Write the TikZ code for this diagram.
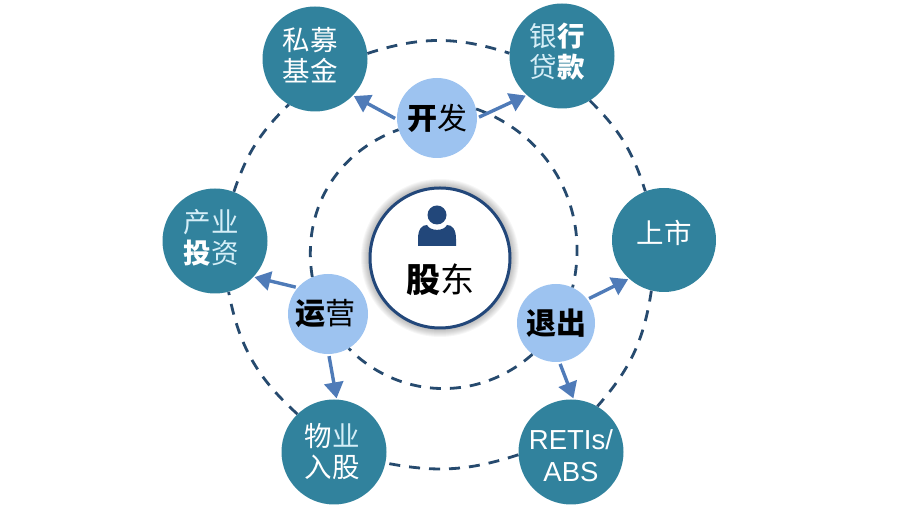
\documentclass[tikz,border=0pt]{standalone}
\usepackage{fontspec}
\newfontfamily\cjk{Noto Sans CJK SC}
\newfontfamily\latinf{Liberation Sans}
\usetikzlibrary{arrows.meta}
\definecolor{tealc}{HTML}{31829D}
\definecolor{lightb}{HTML}{9DC3F0}
\definecolor{ringc}{HTML}{264A6E}
\definecolor{arrowc}{HTML}{4F7BB8}
\definecolor{navy}{HTML}{22477A}
\definecolor{tint}{HTML}{D5EEF7}
\newcommand\shl[1]{\mbox{\kern-5pt #1\kern5pt}}
\tikzset{
  x=1pt,y=1pt,
  outernode/.style={circle,fill=tealc,minimum size=105pt,inner sep=0pt,text=white,align=center,
     font=\cjk\fontsize{27.5}{31}\selectfont},
  innernode/.style={circle,fill=lightb,minimum size=80pt,inner sep=0pt,text=black,
     font=\cjk\fontsize{30}{34}\selectfont},
  centernode/.style={circle,fill=white,draw=navy,line width=3pt,minimum size=140pt,inner sep=0pt,text=black,
     font=\cjk\fontsize{34}{38}\selectfont},
  ring/.style={draw=ringc,line width=2.8pt,dash pattern=on 11pt off 9pt},
  flow/.style={draw=arrowc,line width=3.4pt,-{Triangle[length=16pt,width=19pt]},shorten <=2pt,shorten >=1pt},
}
\begin{document}
\begin{tikzpicture}
\useasboundingbox (0,0) rectangle (900,510);
% soft shadow of the centre disc
\foreach \r in {71,72,...,79}{\fill[black,opacity=0.035] (440,252) circle (\r);}
% nodes
\node[centernode,text height=72pt] (gd) at (440,252) {\textbf{股}东};
\node[outernode,text depth=10pt] (sm) at (315,451) {\shl{私募}\\\shl{基金}};
\node[outernode,text depth=12pt] (yh) at (562,454) {\shl{\textcolor{tint}{银}\textbf{行}}\\\shl{\textcolor{tint}{贷}\textbf{款}}};
\node[outernode,minimum size=104pt,text depth=17pt] (ss) at (664,270) {上市};
\node[outernode,text height=60pt] (rt) at (571,58) {\latinf\fontsize{27.5}{32}\selectfont RETIs/\\[1pt]\latinf\fontsize{27.5}{32}\selectfont ABS};
\node[outernode] (wy) at (334,58) {\mbox{\kern-2pt 物\textcolor{tint}{业}\kern2pt}\\\mbox{\kern-2pt 入股\kern2pt}};
\node[outernode,text depth=10pt] (cy) at (215,269) {\mbox{\kern-4pt\textcolor{tint}{产业}\kern4pt}\\\mbox{\kern-4pt\textbf{投}\textcolor{tint}{资}\kern4pt}};
\node[innernode] (kf) at (437,392) {\textbf{开}发};
\node[innernode] (yy) at (328,196) {\kern-3pt\textbf{运}营\kern3pt};
\node[innernode,minimum size=78pt] (tc) at (556,187) {\textbf{退出}};
% person icon
\fill[navy] (437,295) circle (9.5);
\fill[navy] (418,264) -- (418,271) .. controls (418,281) and (422,285) .. (427,285)
  .. controls (430,278.5) and (444,278.5) .. (447,285)
  .. controls (452,285) and (456,281) .. (456,271) -- (456,264) -- cycle;
% outer ring
\draw[ring] (sm.6) to[bend left=18] (yh.177);
\draw[ring] (yh.-58) to[bend left=14] (ss.111);
\draw[ring] (ss.-104) to[bend left=16.4] (rt.60);
\draw[ring] (rt.183) to[bend left=14.5] (wy.-12);
\draw[ring] (wy.134) to[bend left=18.5] (cy.-75);
\draw[ring] (cy.69) to[bend left=13.5] (sm.-120);
% inner ring
\draw[ring] (kf.13) to[bend left=42] (tc.65);
\draw[ring] (tc.233) to[bend left=43.5] (yy.-59);
\draw[ring] (yy.113) to[bend left=39.7] (kf.197);
% arrows
\draw[flow] (kf.182) -- (sm.-44);
\draw[flow] (kf.0) -- (yh.228);
\draw[flow] (yy.139) -- (cy.-43);
\draw[flow] (yy.-89) -- (wy.87);
\draw[flow] (tc.37) -- (ss.228);
\draw[flow] (tc.-85) -- (rt.87);
\end{tikzpicture}
\end{document}
